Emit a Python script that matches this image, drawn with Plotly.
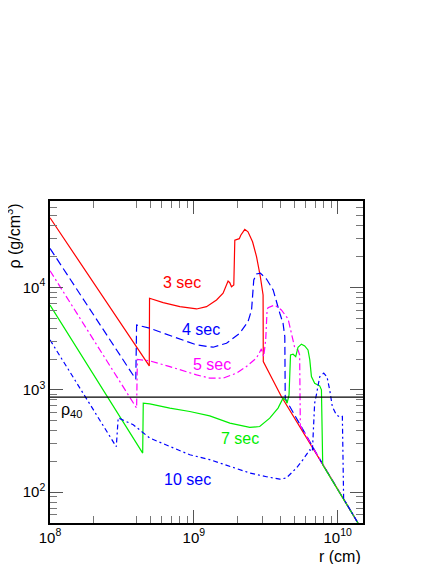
import numpy as np
import plotly.graph_objects as go

# ---------------- data ----------------
r_3s = [1.0e8, 4.9e8, 4.92e8, 6.12e8, 8.0e8, 1.045e9, 1.225e9, 1.438e9, 1.597e9, 1.687e9,
        1.73e9, 1.778e9, 1.827e9, 1.896e9, 1.927e9, 2.07e9, 2.12e9, 2.26e9, 2.38e9, 2.56e9,
        2.73e9, 2.90e9, 3.03e9, 3.04e9, 4.06e9, 7.91e9, 1.384e10]
rho_3s = [48000, 1714, 7850, 7110, 6500, 6170, 6500, 7550, 8780, 10570,
          11560, 11140, 10180, 10570, 29000, 30000, 32400, 36980, 35000, 28000,
          19950, 12740, 8450, 1888, 861, 185, 50]

r_4s = [1.0e8, 3.95e8, 4.0e8, 4.94e8, 7.18e8, 1.045e9, 1.362e9, 1.687e9, 2.085e9, 2.38e9,
        2.52e9, 2.61e9, 2.73e9, 2.90e9, 3.20e9, 3.56e9, 3.96e9, 4.17e9, 4.29e9, 4.32e9,
        7.91e9, 1.384e10]
rho_4s = [24100, 1270, 4300, 4000, 3311, 2748, 2610, 2855, 3575, 4635,
          6030, 11830, 13540, 13840, 12100, 9460, 5600, 4475, 3310, 822,
          185, 50]

r_5s = [1.0e8, 4.0e8, 4.05e8, 4.94e8, 6.81e8, 1.045e9, 1.29e9, 1.597e9, 1.98e9, 2.32e9,
        2.73e9, 2.87e9, 2.95e9, 3.06e9, 3.16e9, 3.23e9, 3.28e9, 3.65e9, 4.06e9, 4.52e9,
        4.77e9, 5.02e9, 5.30e9, 5.44e9, 5.50e9, 7.91e9, 1.384e10]
rho_5s = [14590, 663, 1986, 1919, 1687, 1400, 1300, 1300, 1455, 1688,
          2050, 2365, 2512, 2115, 3076, 6030, 6350, 6745, 6030, 4930,
          3440, 2610, 2455, 2193, 445, 185, 50]

r_7s = [1.0e8, 4.41e8, 4.45e8, 4.94e8, 6.81e8, 9.37e8, 1.29e9, 1.78e9, 2.45e9, 2.87e9,
        3.37e9, 3.85e9, 4.17e9, 4.35e9, 4.45e9, 4.59e9, 4.70e9, 4.90e9, 5.11e9, 5.30e9,
        5.60e9, 5.90e9, 6.22e9, 6.40e9, 6.57e9, 6.92e9, 7.50e9, 7.71e9, 7.87e9, 1.384e10]
rho_7s = [6745, 241, 741, 730, 662, 614, 557, 473, 429, 438,
          529, 663, 829, 798, 741, 893, 2193, 2228, 2113, 2610,
          2795, 2690, 2455, 1963, 1350, 1161, 1094, 1000, 185, 50]

r_10s = [1.0e8, 2.89e8, 2.98e8, 3.79e8, 4.94e8, 6.81e8, 9.37e8, 1.29e9, 1.78e9, 2.45e9,
         3.20e9, 3.96e9, 4.40e9, 5.16e9, 5.74e9, 6.40e9, 6.67e9, 6.92e9, 7.11e9, 7.50e9,
         8.0e9, 8.43e9, 8.80e9, 9.18e9, 9.79e9, 1.04e10, 1.078e10, 1.10e10, 1.384e10]
rho_10s = [3076, 278, 533, 456, 338, 280, 232, 208, 178.5, 154,
           141.6, 134, 137.7, 172, 208, 260, 250, 741, 893, 1340,
           1455, 1340, 1000, 687, 570, 539, 550, 86.4, 50]

rho_40 = 850
x_range = [1.0e8, 1.5e10]
y_range = [50, 7.0e4]

x_major = [1e8, 1e9, 1e10]
x_major_text = ["10<sup>8</sup>", "10<sup>9</sup>", "10<sup>10</sup>"]
x_minor = [2e8, 4e8, 5e8, 6e8, 7e8, 8e8, 9e8,
           2e9, 3e9, 4e9, 5e9, 6e9, 7e9, 8e9, 9e9]
y_major = [1e2, 1e3, 1e4]
y_major_text = ["10<sup>2</sup>", "10<sup>3</sup>", "10<sup>4</sup>"]
y_minor = [60, 70, 80, 90, 200, 300, 400, 500, 600, 700, 800, 900,
           2000, 3000, 4000, 5000, 6000, 7000, 8000, 9000,
           20000, 30000, 40000, 50000, 60000]

labels = ["3 sec", "4 sec", "5 sec", "7 sec", "10 sec"]
label_r = [8.26e8, 1.12e9, 1.33e9, 2.08e9, 9.08e8]
label_rho = [11070, 3850, 1755, 333, 132]

# ---------------- figure ----------------
FONT = "Liberation Sans, Arial, sans-serif"
fig = go.Figure()

series = [
    (r_3s, rho_3s, "#ff0000", "solid"),
    (r_4s, rho_4s, "#0000ff", "8px,4px"),
    (r_5s, rho_5s, "#ff00ff", "7px,3px,2px,3px"),
    (r_7s, rho_7s, "#00ee00", "solid"),
    (r_10s, rho_10s, "#0000ff", "5px,3px,2px,3px"),
]
for rx, ry, col, dash in series:
    fig.add_trace(go.Scatter(x=rx, y=ry, mode="lines",
                             line=dict(color=col, width=1.2, dash=dash),
                             showlegend=False, hoverinfo="skip"))

fig.add_trace(go.Scatter(x=x_range, y=[rho_40, rho_40], mode="lines",
                         line=dict(color="black", width=1.2),
                         showlegend=False, hoverinfo="skip"))

label_colors = ["#ff0000", "#0000ff", "#ff00ff", "#00ee00", "#0000ff"]
for txt, lx, ly, c in zip(labels, label_r, label_rho, label_colors):
    fig.add_annotation(x=np.log10(lx), y=np.log10(ly), text=txt, showarrow=False,
                       font=dict(family=FONT, size=16, color=c),
                       xanchor="center", yanchor="middle")

fig.add_annotation(x=np.log10(1.42e8), y=np.log10(624), text="ρ<sub>40</sub>",
                   showarrow=False, font=dict(family=FONT, size=16, color="black"),
                   xanchor="center", yanchor="middle")

# axis titles
fig.add_annotation(xref="paper", yref="paper", x=0, y=1, xshift=-37, yshift=-1,
                   text="ρ (g/cm<sup>3</sup>)", textangle=-90, showarrow=False,
                   font=dict(family=FONT, size=16, color="black"),
                   xanchor="center", yanchor="top")
fig.add_annotation(xref="paper", yref="paper", x=1, y=0, yshift=-23,
                   text="r (cm)", showarrow=False,
                   font=dict(family=FONT, size=16, color="black"),
                   xanchor="right", yanchor="top")

axis_common = dict(type="log", showgrid=False, zeroline=False,
                   showline=True, linecolor="black", linewidth=1.5, mirror="allticks",
                   ticks="inside", ticklen=13, tickwidth=1, tickcolor="#555555",
                   tickfont=dict(family=FONT, size=15, color="black"))

fig.update_xaxes(range=[np.log10(x_range[0]), np.log10(x_range[1])],
                 tickmode="array", tickvals=x_major, ticktext=x_major_text,
                 minor=dict(tickmode="array", tickvals=x_minor, ticks="inside",
                            ticklen=7, tickwidth=1, tickcolor="#777777", showgrid=False),
                 **axis_common)
fig.update_yaxes(range=[np.log10(y_range[0]), np.log10(y_range[1])],
                 tickmode="array", tickvals=y_major, ticktext=y_major_text,
                 minor=dict(tickmode="array", tickvals=y_minor, ticks="inside",
                            ticklen=7, tickwidth=1, tickcolor="#777777", showgrid=False),
                 **axis_common)

# the page body has an 8px margin, so the figure area is offset by 8px
fig.update_layout(width=436, height=564,
                  margin=dict(l=42, r=81, t=193, b=49, pad=0),
                  paper_bgcolor="white", plot_bgcolor="white",
                  font=dict(family=FONT, color="black"))

fig.write_html("out.html")
